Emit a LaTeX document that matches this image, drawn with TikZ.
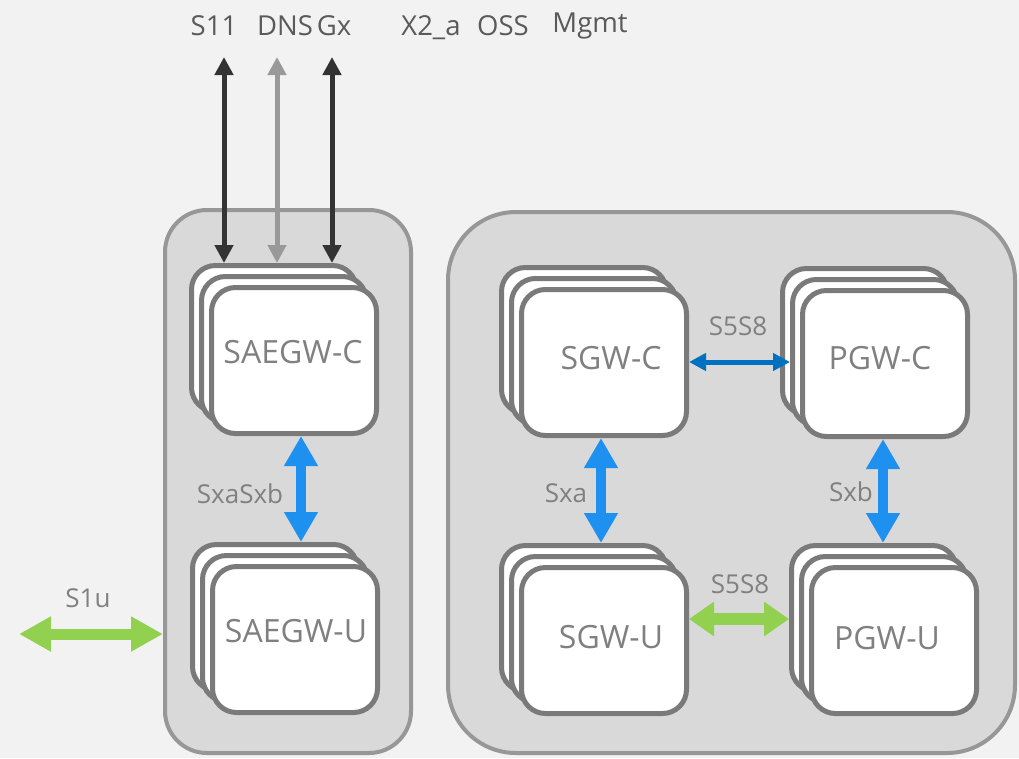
\documentclass[tikz,border=0pt]{standalone}
\usepackage{fontspec}
\setmainfont{Open Sans}
\usetikzlibrary{arrows.meta}
\definecolor{bgc}{HTML}{F2F2F2}
\definecolor{contfill}{HTML}{D9D9D9}
\definecolor{contline}{HTML}{979797}
\definecolor{boxline}{HTML}{7A7A7A}
\definecolor{txtgray}{HTML}{808080}
\definecolor{toptxt}{HTML}{5A5A5A}
\definecolor{darkarr}{HTML}{333333}
\definecolor{greyarr}{HTML}{999999}
\definecolor{bluearr}{HTML}{1E91F0}
\definecolor{dblue}{HTML}{0070C0}
\definecolor{greenarr}{HTML}{92D050}
\tikzset{
  container/.style={draw=contline, fill=contfill, line width=4pt, inner sep=0pt},
  gwbox/.style={draw=boxline, fill=white, line width=5pt, rounded corners=24pt,
     minimum width=165pt, minimum height=146pt, inner sep=0pt, anchor=north west},
  boxtxt/.style={text=txtgray, font=\fontsize{32}{32}\selectfont, anchor=base, inner sep=0pt},
  toplbl/.style={text=toptxt, font=\fontsize{27.5}{27.5}\selectfont, anchor=base, inner sep=0pt},
  arrlbl/.style={text=txtgray, font=\fontsize{26}{26}\selectfont, anchor=base, inner sep=0pt},
  toparr/.style={line width=5pt, {Triangle[width=18pt,length=18pt]}-{Triangle[width=18pt,length=18pt]}},
  bluev/.style={draw=bluearr, line width=10pt, {Triangle[width=32pt,length=30pt]}-{Triangle[width=32pt,length=30pt]}},
  dbluearr/.style={draw=dblue, line width=5pt, {Triangle[width=17pt,length=17pt]}-{Triangle[width=17pt,length=17pt]}},
  greenarrS/.style={draw=greenarr, line width=12pt, {Triangle[width=33pt,length=25pt]}-{Triangle[width=33pt,length=25pt]}},
  greenarrL/.style={draw=greenarr, line width=11pt, {Triangle[width=33pt,length=32pt]}-{Triangle[width=33pt,length=32pt]}},
}
\newcommand{\gwstack}[3]{%
  \node[gwbox] (#1b) at (#2-20,#3-22) {};
  \node[gwbox] (#1m) at (#2-10,#3-11) {};
  \node[gwbox] (#1) at (#2,#3) {};
}
\begin{document}
\begin{tikzpicture}[x=1pt,y=-1pt]
\path[use as bounding box] (0,0) rectangle (1019,758);
\fill[bgc] (0,0) rectangle (1019,758);

% containers
\node[container, rounded corners=42pt, minimum width=246pt, minimum height=543pt] (leftc) at (288,481.5) {};
\node[container, rounded corners=68pt, minimum width=567pt, minimum height=541pt] (rightc) at (731.5,482.5) {};

% stacks
\gwstack{saegwc}{209}{285}
\gwstack{saegwu}{210}{564}
\gwstack{sgwc}{519}{287}
\gwstack{pgwc}{800}{288}
\gwstack{sgwu}{519}{565}
\gwstack{pgwu}{809}{565}

\node[boxtxt] (saegwct) at (293,363) {SAEGW-C};
\node[boxtxt] (saegwut) at (296,642) {SAEGW-U};
\node[boxtxt] (sgwct) at (611,369) {SGW-C};
\node[boxtxt] (pgwct) at (880,369) {PGW-C};
\node[boxtxt] (sgwut) at (611,648) {SGW-U};
\node[boxtxt] (pgwut) at (887,649) {PGW-U};

% top labels
\node[toplbl] (ls11) at (214,35) {S11};
\node[toplbl] (ldns) at (285,35) {DNS};
\node[toplbl] (lgx) at (334,35) {Gx};
\node[toplbl] (lx2) at (431,35) {X2\_a};
\node[toplbl] (loss) at (503,35) {OSS};
\node[toplbl] (lmgmt) at (590,32) {Mgmt};

% top arrows
\coordinate (s11top) at (224,57);
\coordinate (dnstop) at (277,57);
\coordinate (gxtop) at (332,57);
\draw[toparr, darkarr] (s11top) -- (s11top |- saegwcb.north);
\draw[toparr, greyarr] (dnstop) -- (dnstop |- saegwcb.north);
\draw[toparr, darkarr] (gxtop) -- (gxtop |- saegwcb.north);

% vertical blue arrows
\coordinate (xa) at (301,0);
\coordinate (xb) at (601,0);
\coordinate (xc) at (883,0);
\draw[bluev] (xa |- saegwc.south) -- (xa |- saegwub.north);
\draw[bluev] (xb |- sgwc.south) -- (xb |- sgwub.north);
\draw[bluev] (xc |- pgwc.south) -- (xc |- pgwub.north);
\node[arrlbl] (lsxasxb) at (240,503) {SxaSxb};
\node[arrlbl] (lsxa) at (566,502) {Sxa};
\node[arrlbl] (lsxb) at (851,501) {Sxb};

% horizontal arrows
\coordinate (ytop) at (0,362);
\coordinate (ybot) at (0,619);
\coordinate (ys1u) at (0,634);
\draw[dbluearr] (sgwc.east |- ytop) -- (pgwcm.west |- ytop);
\draw[greenarrS] (sgwu.east |- ybot) -- (pgwub.west |- ybot);
\coordinate (s1uend) at (19,634);
\draw[greenarrL] (s1uend) -- (leftc.west |- ys1u);
\node[arrlbl] (ls5s8a) at (738,335) {S5S8};
\node[arrlbl] (ls5s8b) at (740,593) {S5S8};
\node[arrlbl] (ls1u) at (88,607) {S1u};
\end{tikzpicture}
\end{document}
